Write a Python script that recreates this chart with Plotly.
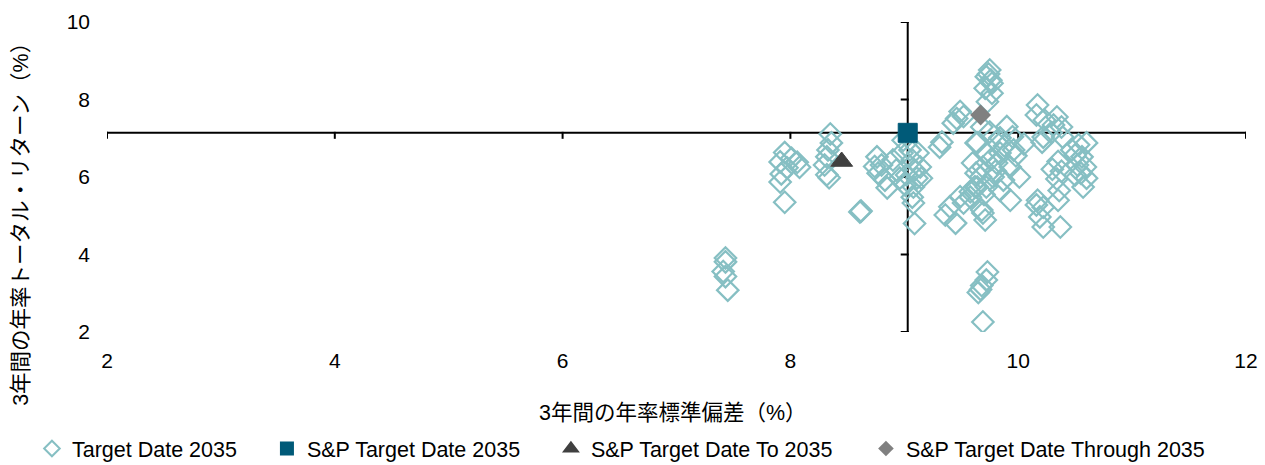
import plotly.graph_objects as go

# ---- data ----
td_x = [7.43, 7.43, 7.41, 7.43, 7.45,
        7.95, 7.91, 8.01, 8.06, 7.97, 8.08, 7.92, 7.91, 7.95,
        8.35, 8.36, 8.33, 8.32, 8.30, 8.32, 8.34,
        8.61, 8.62,
        8.76, 8.80, 8.77, 8.83, 8.85, 8.90, 8.93, 8.96, 8.98, 9.05, 9.07, 9.09,
        9.11, 9.08, 9.07, 9.02, 9.01, 8.99, 9.09, 8.74, 9.12, 9.14, 9.15, 9.08,
        9.33, 9.31,
        9.49, 9.46, 9.52, 9.43,
        9.40, 9.36, 9.45, 9.49, 9.52, 9.58, 9.62, 9.68, 9.71,
        9.75, 9.72, 9.77, 9.71, 9.77, 9.73, 9.74, 9.76,
        9.68, 9.75, 9.90, 9.95, 9.81, 9.63, 9.72, 9.84, 9.96, 9.60, 9.69, 9.81,
        9.93, 10.01, 9.67, 9.78, 9.87, 9.64, 9.72, 9.84, 9.58, 9.93, 9.69, 9.88,
        9.76, 9.63, 9.70, 9.80, 10.05, 9.98, 9.84, 9.64,
        9.73, 9.72, 9.68, 9.65, 9.67, 9.69,
        10.17, 10.16, 10.23, 10.34, 10.31, 10.38, 10.22, 10.21, 10.29, 10.39,
        10.35, 10.30, 10.38, 10.34, 10.36, 10.35, 10.17, 10.16, 10.22, 10.19,
        10.22, 10.37,
        10.53, 10.60, 10.50, 10.56, 10.52, 10.59, 10.55, 10.60, 10.50, 10.57, 10.47]
td_y = [3.91, 3.81, 3.56, 3.43, 3.08,
        6.63, 6.39, 6.48, 6.38, 6.24, 6.25, 6.08, 5.87, 5.35,
        7.11, 6.88, 6.70, 6.52, 6.31, 6.06, 5.98,
        5.10, 5.12,
        6.52, 6.31, 6.10, 5.92, 5.72, 6.44, 6.18, 5.97, 6.62, 6.70, 6.44, 6.18,
        5.97, 5.74, 5.48, 6.05, 5.79, 6.95, 4.80, 6.27, 6.62, 6.26, 5.97, 5.33,
        6.90, 6.77,
        7.69, 7.51, 7.56, 7.39,
        5.23, 5.02, 4.81, 5.49, 5.33, 5.62, 5.75, 5.15, 4.89,
        8.76, 8.59, 8.42, 8.29, 8.16, 7.94, 8.66, 8.50,
        7.29, 7.16, 7.30, 7.04, 6.90, 6.88, 6.62, 6.62, 6.70, 6.36, 6.26, 6.36,
        6.26, 6.00, 6.00, 6.00, 5.92, 5.74, 5.74, 5.66, 5.48, 5.40, 5.07, 6.80,
        6.45, 6.10, 5.55, 6.15, 6.85, 6.55, 7.01, 6.88,
        3.55, 3.34, 3.20, 3.02, 3.10, 2.26,
        7.86, 7.60, 7.47, 7.55, 7.34, 7.29, 7.03, 6.90, 7.14, 7.03,
        6.40, 6.20, 6.15, 5.95, 5.65, 5.40, 5.40, 5.28, 5.22, 4.97,
        4.71, 4.71,
        6.83, 6.88, 6.57, 6.52, 6.31, 6.26, 6.10, 5.97, 6.05, 5.74, 6.70]

sp_x = [9.03]
sp_y = [7.14]
to_x = [8.45]
to_y = [6.40]
thru_x = [9.67]
thru_y = [7.60]

series_names = ["Target Date 2035", "S&P Target Date 2035",
                "S&P Target Date To 2035", "S&P Target Date Through 2035"]
x_ticks = [2, 4, 6, 8, 10, 12]
y_ticks = [2, 4, 6, 8, 10]
x_title = "3年間の年率標準偏差（%）"
y_title = "3年間の年率トータル・リターン（%）"

FONT = "Liberation Sans, Arial, Noto Sans CJK JP, sans-serif"

fig = go.Figure()
fig.add_trace(go.Scatter(
    x=td_x, y=td_y, mode="markers", name=series_names[0], legendwidth=190,
    marker=dict(symbol="diamond-open", size=16.5, color="#86BFC3",
                line=dict(width=2.2, color="#86BFC3"))))
fig.add_trace(go.Scatter(
    x=sp_x, y=sp_y, mode="markers", name=series_names[1], legendwidth=239,
    marker=dict(symbol="square", size=19, color="#005A78",
                line=dict(width=1, color="#005A78"))))
fig.add_trace(go.Scatter(
    x=to_x, y=to_y, mode="markers", name=series_names[2], legendwidth=270,
    marker=dict(symbol="triangle-up", size=19, color="#404040",
                line=dict(width=1, color="#404040"))))
fig.add_trace(go.Scatter(
    x=thru_x, y=thru_y, mode="markers", name=series_names[3], legendwidth=300,
    marker=dict(symbol="diamond", size=16, color="#808080",
                line=dict(width=0))))

# crossing axis lines at the benchmark point, with tick marks
cross_x = sp_x[0]
cross_y = sp_y[0]
shapes = [
    dict(type="line", xref="x", yref="y", x0=x_ticks[0], x1=x_ticks[-1],
         y0=cross_y, y1=cross_y, line=dict(color="black", width=2), layer="below"),
    dict(type="line", xref="x", yref="y", x0=cross_x, x1=cross_x,
         y0=y_ticks[0], y1=y_ticks[-1], line=dict(color="black", width=2), layer="below"),
]
for t in x_ticks:
    shapes.append(dict(type="line", xref="x", yref="y", ysizemode="pixel", yanchor=cross_y,
                       x0=t, x1=t, y0=1, y1=-6, line=dict(color="black", width=2),
                       layer="below"))
for t in y_ticks:
    shapes.append(dict(type="line", xref="x", yref="y", xsizemode="pixel", xanchor=cross_x,
                       x0=-7, x1=1, y0=t, y1=t, line=dict(color="black", width=2),
                       layer="below"))

fig.update_layout(
    width=1265, height=465,
    margin=dict(l=107, r=19, t=22, b=133, autoexpand=False),
    paper_bgcolor="white", plot_bgcolor="white",
    font=dict(family=FONT, size=21, color="black"),
    showlegend=True,
    xaxis=dict(range=[x_ticks[0], x_ticks[-1]], tickvals=x_ticks, showline=False,
               showgrid=False, zeroline=False, ticks="", ticklabelstandoff=14,
               tickfont=dict(size=21)),
    yaxis=dict(range=[y_ticks[0], y_ticks[-1]], tickvals=y_ticks, showline=False,
               showgrid=False, zeroline=False, ticks="", ticklabelstandoff=16,
               tickfont=dict(size=21)),
    shapes=shapes,
    legend=dict(orientation="h", x=-0.0659, xanchor="left", y=-0.442, yanchor="bottom",
                font=dict(size=21.5), itemsizing="constant", bgcolor="rgba(0,0,0,0)"),
    annotations=[
        dict(text=x_title, xref="paper", yref="paper", x=0.497, y=-0.2613,
             xanchor="center", yanchor="middle", showarrow=False,
             font=dict(size=21.5)),
        dict(text=y_title, xref="paper", yref="paper", x=-0.0755, y=0.365,
             xanchor="center", yanchor="middle", showarrow=False, textangle=-90,
             font=dict(size=21.5)),
    ],
)

fig.write_html("out.html", config={"displayModeBar": False},
               post_script="document.body.style.margin='0';document.body.style.padding='0';")
